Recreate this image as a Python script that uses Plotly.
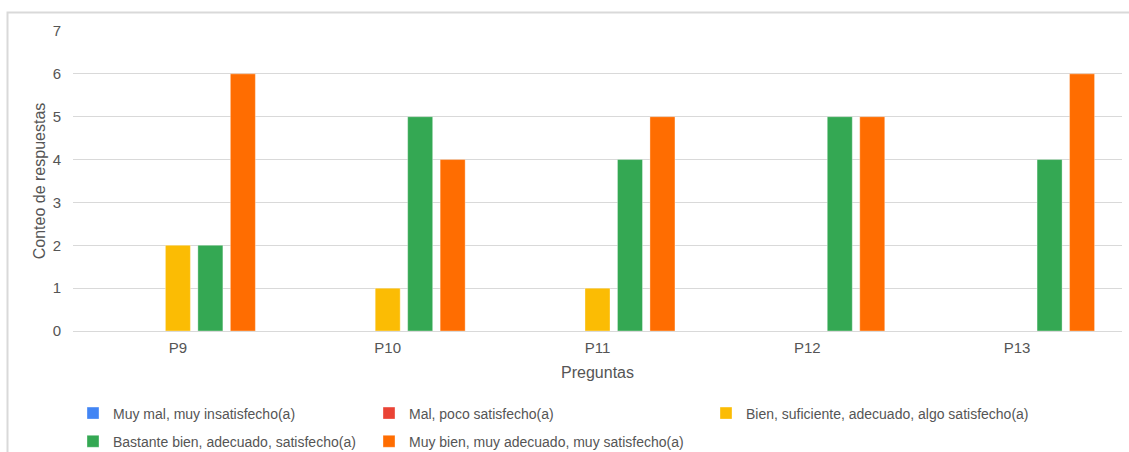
import plotly.graph_objects as go

# Survey answer counts per question
preguntas = ["P9", "P10", "P11", "P12", "P13"]

muy_mal = [0, 0, 0, 0, 0]
mal = [0, 0, 0, 0, 0]
bien = [2, 1, 1, 0, 0]
bastante_bien = [2, 5, 4, 5, 4]
muy_bien = [6, 4, 5, 5, 6]

series = [
    ("Muy mal, muy insatisfecho(a)", muy_mal, "#4285F4", "legend"),
    ("Mal, poco satisfecho(a)", mal, "#EA4335", "legend2"),
    ("Bien, suficiente, adecuado, algo satisfecho(a)", bien, "#FBBC04", "legend3"),
    ("Bastante bien, adecuado, satisfecho(a)", bastante_bien, "#34A853", "legend"),
    ("Muy bien, muy adecuado, muy satisfecho(a)", muy_bien, "#FF6D01", "legend2"),
]

FONT = "Liberation Sans, Arial, sans-serif"
TEXT = "#555555"
GRID = "#d9d9d9"

fig = go.Figure()
for name, vals, color, leg in series:
    fig.add_trace(go.Bar(
        x=preguntas, y=vals, name=name, legend=leg, legendgroup=name,
        marker=dict(color=color, line=dict(color="rgba(255,255,255,0.35)", width=1)),
    ))

W, H = 1129, 452
L, R, T, B = 73, 7, 31, 121
pw, ph = W - L - R, H - T - B


def px_x(v):
    return (v - L) / pw


def px_y(v):
    return (H - B - v) / ph


legend_common = dict(
    orientation="v", xanchor="left", yanchor="top",
    font=dict(family=FONT, size=14, color=TEXT),
    bgcolor="rgba(0,0,0,0)", traceorder="grouped", tracegroupgap=7,
)

fig.update_layout(
    width=W, height=H,
    margin=dict(l=L, r=R, t=T, b=B, autoexpand=False),
    paper_bgcolor="white", plot_bgcolor="white",
    barmode="group", bargap=0.226, bargroupgap=0.23,
    font=dict(family=FONT, size=14, color=TEXT),
    legend=dict(x=px_x(73), y=px_y(397.5), **legend_common),
    legend2=dict(x=px_x(369), y=px_y(397.5), **legend_common),
    legend3=dict(x=px_x(706), y=px_y(397.5), **legend_common),
    xaxis=dict(
        showgrid=False, showline=False, ticks="", ticklabelstandoff=6,
        tickfont=dict(family=FONT, size=15, color=TEXT),
        title=dict(text="Preguntas", font=dict(family=FONT, size=16, color=TEXT), standoff=11),
    ),
    yaxis=dict(
        range=[0, 7], dtick=1, showgrid=True, gridcolor=GRID, gridwidth=1,
        zeroline=True, zerolinecolor=GRID, zerolinewidth=1,
        showline=False, ticks="", ticklabelstandoff=11,
        tickfont=dict(family=FONT, size=15, color=TEXT),
        title=dict(text="Conteo de respuestas", font=dict(family=FONT, size=16, color=TEXT), standoff=3),
    ),
    shapes=[dict(
        type="rect", xref="paper", yref="paper",
        x0=px_x(7.5), x1=px_x(W + 10), y0=px_y(H + 10), y1=px_y(12.5),
        line=dict(color="#d9d9d9", width=2), fillcolor="rgba(0,0,0,0)", layer="below",
    )],
)

fig.write_html("out.html")
